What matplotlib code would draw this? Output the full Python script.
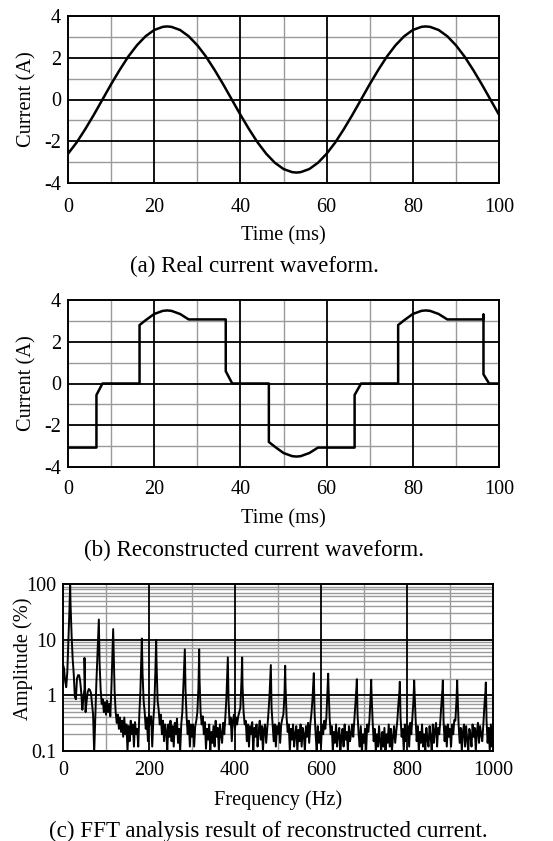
import numpy as np
import matplotlib
matplotlib.use("Agg")
import matplotlib.pyplot as plt
from matplotlib.ticker import MultipleLocator, FixedLocator, NullFormatter, LogLocator

plt.rcParams['font.family'] = ['Liberation Serif', 'DejaVu Serif']
plt.rcParams['axes.unicode_minus'] = False

# ---------------- data ----------------
# (a) real current waveform
t_real = [0, 2, 4, 6, 8, 10, 12, 14, 16, 18, 20, 22, 23, 24, 26, 28, 30, 32, 34, 36, 38,
          40, 42, 44, 46, 48, 50, 52, 53, 54, 56, 58, 60, 62, 64, 66, 68,
          70, 72, 74, 76, 78, 80, 82, 83, 84, 86, 88, 90, 92, 94, 96, 98, 100]
i_real = [-2.60, -2.06, -1.42, -0.73, 0.0, 0.73, 1.42, 2.06, 2.60, 3.03, 3.33, 3.48, 3.50, 3.48, 3.33, 3.03, 2.60, 2.06, 1.42, 0.73, 0.0,
          -0.73, -1.42, -2.06, -2.60, -3.03, -3.33, -3.48, -3.50, -3.48, -3.33, -3.03, -2.60, -2.06, -1.42, -0.73, 0.0,
          0.73, 1.42, 2.06, 2.60, 3.03, 3.33, 3.48, 3.50, 3.48, 3.33, 3.03, 2.60, 2.06, 1.42, 0.73, 0.0, -0.73]

# (b) reconstructed current waveform
t_rec = [0, 6.6, 6.6, 8.0, 16.6, 16.6, 18, 20, 22, 23, 24, 26, 28, 36.6, 36.6, 38.1,
         46.6, 46.6, 48, 50, 52, 53, 54, 56, 58, 66.5, 66.5, 68.0,
         76.6, 76.6, 78, 80, 82, 83, 84, 86, 88, 96.4, 96.4, 96.4, 97.7, 100]
i_rec = [-3.07, -3.07, -0.55, 0.0, 0.0, 2.80, 3.03, 3.33, 3.48, 3.50, 3.48, 3.33, 3.07, 3.07, 0.59, 0.0,
         0.0, -2.80, -3.03, -3.33, -3.48, -3.50, -3.48, -3.33, -3.07, -3.07, -0.55, 0.0,
         0.0, 2.80, 3.03, 3.33, 3.48, 3.50, 3.48, 3.33, 3.07, 3.07, 3.30, 0.44, 0.0, 0.0]

# (c) FFT spectrum: background amplitude (%) every 2.5 Hz from 0 to 1000 Hz
spec_floor = [
    3.6, 3.0, 1.8, 1.4, 2.6, 9.0, 35, 45, 12, 4.5,
    2.4, 0.95, 0.85, 2.0, 2.3, 2.3, 1.8, 1.1, 0.55, 0.9,
    1.3, 0.5, 0.8, 1.15, 1.3, 1.25, 1.1, 0.7, 0.45, 0.09,
    0.4, 1.6, 5.0, 15, 4.0, 1.3, 0.7, 0.85, 0.5, 0.75,
    0.45, 0.8, 0.5, 0.7, 0.42, 1.3, 6.0, 8.0, 1.2, 0.5,
    0.32, 0.45, 0.25, 0.4, 0.22, 0.35, 0.18, 0.4, 0.2, 0.3,
    0.1, 0.28, 0.15, 0.35, 0.2, 0.3, 0.12, 0.33, 0.2, 0.25,
    0.12, 0.45, 1.2, 6.0, 2.5, 0.8, 0.5, 0.25, 0.4, 0.15,
    0.45, 0.3, 0.42, 0.12, 0.35, 0.7, 3.0, 4.0, 0.8, 0.55,
    0.3, 0.45, 0.2, 0.35, 0.15, 0.3, 0.22, 0.1, 0.3, 0.18,
    0.35, 0.15, 0.28, 0.12, 0.32, 0.2, 0.38, 0.14, 0.25, 0.1,
    0.3, 0.5, 1.5, 5.0, 1.2, 0.4, 0.2, 0.35, 0.12, 0.3,
    0.18, 0.3, 0.12, 0.28, 0.35, 0.5, 1.4, 2.0, 0.5, 0.3,
    0.42, 0.2, 0.33, 0.11, 0.25, 0.16, 0.3, 0.1, 0.22, 0.14,
    0.28, 0.12, 0.35, 0.18, 0.26, 0.1, 0.3, 0.2, 0.14, 0.32,
    0.2, 0.4, 0.9, 3.0, 0.8, 0.3, 0.4, 0.15, 0.35, 0.45,
    0.25, 0.4, 0.3, 0.42, 0.5, 0.6, 1.8, 1.5, 0.5, 0.3,
    0.35, 0.15, 0.3, 0.12, 0.28, 0.2, 0.33, 0.1, 0.26, 0.18,
    0.3, 0.12, 0.22, 0.35, 0.16, 0.28, 0.1, 0.25, 0.3, 0.14,
    0.25, 0.45, 0.9, 2.5, 0.6, 0.3, 0.15, 0.3, 0.12, 0.28,
    0.2, 0.32, 0.14, 0.3, 0.38, 0.45, 1.0, 1.5, 0.4, 0.22,
    0.3, 0.1, 0.25, 0.16, 0.3, 0.12, 0.2, 0.28, 0.1, 0.24,
    0.15, 0.3, 0.12, 0.26, 0.2, 0.1, 0.28, 0.18, 0.32, 0.14,
    0.3, 0.45, 0.8, 1.8, 0.5, 0.2, 0.1, 0.28, 0.14, 0.22,
    0.12, 0.3, 0.2, 0.35, 0.25, 0.4, 1.2, 1.4, 0.4, 0.2,
    0.28, 0.1, 0.22, 0.14, 0.3, 0.12, 0.2, 0.26, 0.1, 0.18,
    0.25, 0.12, 0.3, 0.16, 0.22, 0.1, 0.28, 0.15, 0.2, 0.3,
    0.18, 0.35, 0.7, 1.4, 0.45, 0.2, 0.12, 0.28, 0.1, 0.2,
    0.14, 0.25, 0.1, 0.3, 0.22, 0.35, 0.8, 1.1, 0.35, 0.15,
    0.25, 0.1, 0.2, 0.12, 0.28, 0.15, 0.1, 0.22, 0.12, 0.26,
    0.1, 0.2, 0.14, 0.3, 0.12, 0.25, 0.1, 0.18, 0.28, 0.14,
    0.22, 0.35, 0.7, 1.2, 0.4, 0.18, 0.25, 0.1, 0.3, 0.15,
    0.2, 0.28, 0.12, 0.32, 0.2, 0.4, 0.8, 1.2, 0.38, 0.15,
    0.28, 0.1, 0.22, 0.14, 0.3, 0.12, 0.2, 0.1, 0.26, 0.16,
    0.12, 0.28, 0.18, 0.1, 0.3, 0.14, 0.24, 0.32, 0.12, 0.26,
    0.2, 0.35, 0.7, 1.3, 0.35, 0.15, 0.28, 0.12, 0.3, 0.18,
    0.25, 0.12, 0.3, 0.2, 0.36, 0.35, 0.8, 1.1, 0.3, 0.14,
    0.26, 0.1, 0.22, 0.3, 0.12, 0.28, 0.16, 0.1, 0.25, 0.2,
    0.12, 0.3, 0.18, 0.26, 0.1, 0.22, 0.32, 0.14, 0.28, 0.2,
    0.15, 0.3, 0.65, 1.2, 0.35, 0.14, 0.26, 0.1, 0.3, 0.12,
    0.3,
]
# harmonic peaks
harm_freq = [16.67, 50.0, 83.33, 116.67, 183.33, 216.67, 283.33, 316.67, 383.33, 416.67,
             483.33, 516.67, 583.33, 616.67, 683.33, 716.67, 783.33, 816.67, 883.33, 916.67, 983.33]
harm_amp = [100, 4.7, 23, 15.5, 10.5, 9.9, 6.7, 6.7, 4.8, 4.8,
            3.5, 3.4, 2.5, 2.45, 1.95, 1.9, 1.75, 1.85, 1.85, 1.85, 1.7]

captions = ["(a) Real current waveform.",
            "(b) Reconstructed current waveform.",
            "(c) FFT analysis result of reconstructed current."]

# ---------------- figure ----------------
W, H = 553, 841
fig = plt.figure(figsize=(W / 100, H / 100), dpi=100)

def ax_px(left, right, top, bottom):
    return fig.add_axes([left / W, 1 - bottom / H, (right - left) / W, (bottom - top) / H])

FS_TICK = 14.5
FS_LAB = 14.7
FS_CAP = 16.6
MAJ = dict(color='black', linewidth=1.3, zorder=1.0)
MIN = dict(color='#9a9a9a', linewidth=1.0)

def common_style(ax, xl, yl, xpad, xlab_y, ylab_x, ylab_y):
    # minor grid from the axis, major grid drawn on top of it
    ax.grid(False, which='major')
    ax.grid(True, which='minor', **MIN)
    ax.set_axisbelow(True)
    x0, x1 = ax.get_xlim()
    y0, y1 = ax.get_ylim()
    for v in ax.xaxis.get_majorticklocs():
        if x0 < v < x1:
            ax.axvline(v, **MAJ)
    for v in ax.yaxis.get_majorticklocs():
        if y0 < v < y1:
            ax.axhline(v, **MAJ)
    ax.tick_params(which='both', length=0, labelsize=FS_TICK)
    ax.tick_params(axis='x', pad=xpad)
    ax.tick_params(axis='y', pad=5)
    for s in ax.spines.values():
        s.set_linewidth(1.4)
    ax.set_xlabel(xl, fontsize=FS_LAB)
    ax.set_ylabel(yl, fontsize=FS_LAB)
    ax.xaxis.label.set_va('center')
    ax.yaxis.label.set_va('center')
    ax.xaxis.set_label_coords(0.5, xlab_y)
    ax.yaxis.set_label_coords(ylab_x, ylab_y)

def style_time_axes(ax, xpad, xlab_y):
    ax.set_xlim(0, 100)
    ax.set_ylim(-4, 4)
    ax.xaxis.set_major_locator(MultipleLocator(20))
    ax.xaxis.set_minor_locator(MultipleLocator(10))
    ax.yaxis.set_major_locator(MultipleLocator(2))
    ax.yaxis.set_minor_locator(MultipleLocator(1))
    common_style(ax, "Time (ms)", "Current (A)", xpad, xlab_y, -0.095, 0.5)

ax1 = ax_px(68, 499, 16, 183)
ax1.plot(t_real, i_real, color='black', linewidth=1.8, zorder=3)
style_time_axes(ax1, 11, -0.318)

ax2 = ax_px(68, 499, 300, 467)
ax2.plot(t_rec, i_rec, color='black', linewidth=1.8, zorder=3)
style_time_axes(ax2, 9.5, -0.313)

# spectrum
floor_freq = np.linspace(0, 1000, len(spec_floor))
f_all = np.concatenate([floor_freq, np.array(harm_freq)])
a_all = np.concatenate([np.array(spec_floor), np.array(harm_amp)])
order = np.argsort(f_all, kind='stable')

ax3 = ax_px(63, 493, 584, 751)
ax3.plot(f_all[order], a_all[order], color='black', linewidth=1.4, zorder=3)
ax3.set_yscale('log')
ax3.set_xlim(0, 1000)
ax3.set_ylim(0.1, 100)
ax3.xaxis.set_major_locator(MultipleLocator(200))
ax3.xaxis.set_minor_locator(MultipleLocator(100))
ax3.yaxis.set_major_locator(FixedLocator([0.1, 1, 10, 100]))
ax3.set_yticklabels(["0.1", "1", "10", "100"])
ax3.yaxis.set_minor_locator(LogLocator(base=10, subs=np.arange(2, 10)))
ax3.yaxis.set_minor_formatter(NullFormatter())
common_style(ax3, "Frequency (Hz)", "Amplitude (%)", 7.5, -0.297, -0.092, 0.55)

fig.text(254 / W, 1 - 266 / H, captions[0], ha='center', va='center', fontsize=FS_CAP)
fig.text(254 / W, 1 - 550 / H, captions[1], ha='center', va='center', fontsize=FS_CAP)
fig.text(268 / W, 1 - 831 / H, captions[2], ha='center', va='center', fontsize=FS_CAP)

fig.savefig("out.png", dpi=100, facecolor='white')
